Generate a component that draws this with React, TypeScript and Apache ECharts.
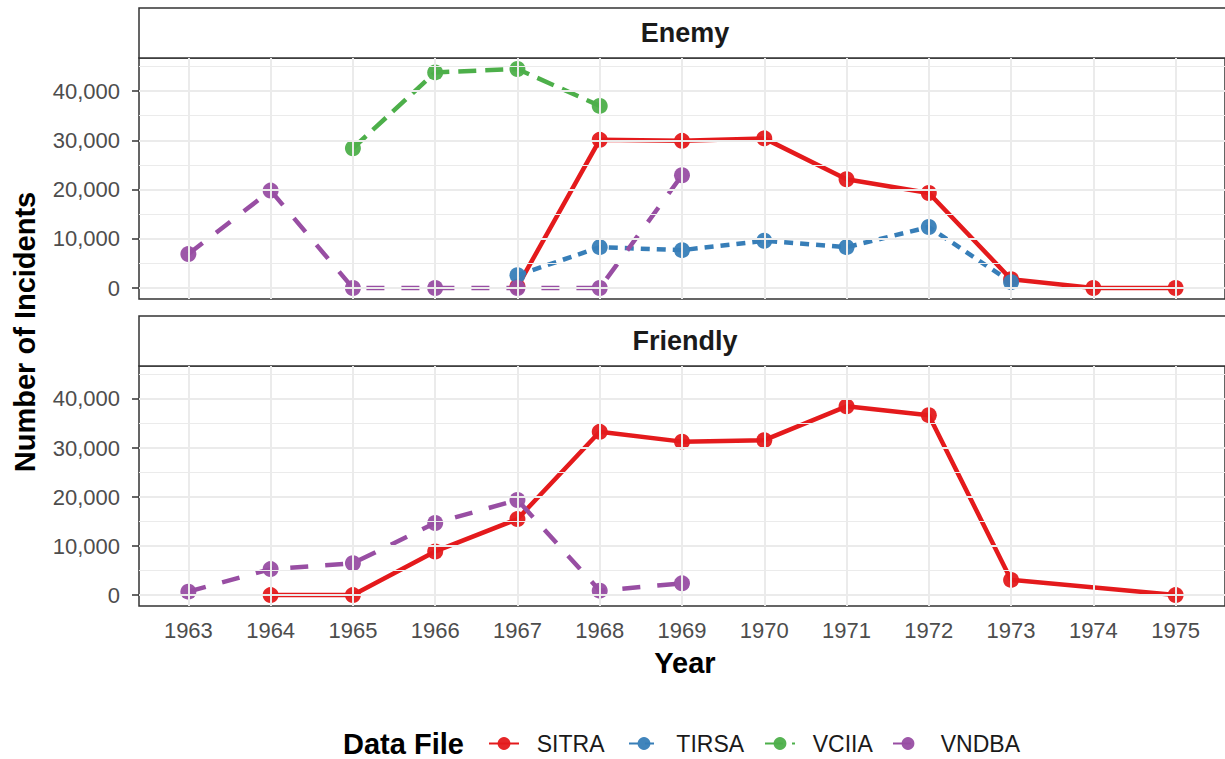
import React, { useEffect, useRef } from "react";
import * as echarts from "echarts";

// Years on the x axis
const years = [1963, 1964, 1965, 1966, 1967, 1968, 1969, 1970, 1971, 1972, 1973, 1974, 1975];
const yTicks = [0, 10000, 20000, 30000, 40000];
const yMinor = [5000, 15000, 25000, 35000, 45000];

// Incident counts per data file (null = no record that year)
const enemySITRA = [null, null, null, null, 300, 30100, 29900, 30400, 22100, 19300, 1800, 0, 0];
const enemyTIRSA = [null, null, null, null, 2600, 8300, 7700, 9600, 8300, 12400, 1200, null, null];
const enemyVCIIA = [null, null, 28400, 43800, 44500, 37000, null, null, null, null, null, null, null];
const enemyVNDBA = [6900, 19800, 0, 0, 0, 0, 22900, null, null, null, null, null, null];
const friendlySITRA = [null, 0, 0, 8900, 15500, 33300, 31300, 31600, 38500, 36700, 3100, null, 0];
const friendlyVNDBA = [700, 5300, 6500, 14700, 19400, 900, 2400, null, null, null, null, null, null];

const facets = ["Enemy", "Friendly"];
const dataFiles = ["SITRA", "TIRSA", "VCIIA", "VNDBA"];

const FONT = "'Liberation Sans', Arial, Helvetica, sans-serif";
const COLORS: Record<string, string> = {
  SITRA: "#E41A1C",
  TIRSA: "#377EB8",
  VCIIA: "#4DAF4A",
  VNDBA: "#984EA3",
};
const DASHES: Record<string, any> = {
  SITRA: "solid",
  TIRSA: [9, 7],
  VCIIA: [18, 9],
  VNDBA: [18, 17],
};

const GRID_LEFT = 139;
const GRID_WIDTH = 1092;
const PANELS = [
  { stripTop: 8, top: 58, height: 241 },
  { stripTop: 316, top: 366, height: 240 },
];

export default function App() {
  const ref = useRef<HTMLDivElement>(null);

  useEffect(() => {
    if (!ref.current) return;
    const chart = echarts.init(ref.current, null, { renderer: "svg" });

    const allValues = [
      ...enemySITRA, ...enemyTIRSA, ...enemyVCIIA, ...enemyVNDBA,
      ...friendlySITRA, ...friendlyVNDBA,
    ].filter((v) => v != null) as number[];
    const dataMax = Math.max(...allValues);
    const dataMin = Math.min(...allValues);
    const yPad = (dataMax - dataMin) * 0.05;
    const yMin = dataMin - yPad;
    const yMax = dataMax + yPad;
    const xPad = 0.6;

    const toPairs = (vals: (number | null)[]) =>
      years.map((y, i) => [y, vals[i] == null ? "-" : vals[i]]);

    const lineSeries = (name: string, vals: (number | null)[], idx: number) => ({
      type: "line",
      name,
      xAxisIndex: idx,
      yAxisIndex: idx,
      data: toPairs(vals),
      connectNulls: true,
      symbol: "circle",
      symbolSize: 16,
      showSymbol: true,
      lineStyle: { color: COLORS[name], width: 4.5, type: DASHES[name], cap: "butt" },
      itemStyle: { color: COLORS[name], borderWidth: 0, opacity: 0.95 },
      emphasis: { disabled: true },
      z: 3,
    });

    // Background grid lines for each panel
    const gridSeries = (idx: number) => ({
      type: "line",
      name: "grid" + idx,
      xAxisIndex: idx,
      yAxisIndex: idx,
      data: [],
      silent: true,
      z: 1,
      markLine: {
        silent: true,
        symbol: "none",
        animation: false,
        label: { show: false },
        emphasis: { disabled: true },
        data: [
          ...yMinor.map((v) => ({ yAxis: v, lineStyle: { color: "#EBEBEB", width: 1, type: "solid" } })),
          ...yTicks.map((v) => ({ yAxis: v, lineStyle: { color: "#EBEBEB", width: 2, type: "solid" } })),
          ...years.map((v) => ({ xAxis: v, lineStyle: { color: "#EBEBEB", width: 2, type: "solid" } })),
        ],
      },
    });

    const grids = PANELS.map((p) => ({
      left: GRID_LEFT,
      top: p.top,
      width: GRID_WIDTH,
      height: p.height,
      show: true,
      backgroundColor: "#FFFFFF",
      borderColor: "#333333",
      borderWidth: 1.5,
      containLabel: false,
    }));

    const xAxes = PANELS.map((_, idx) => ({
      type: "value",
      gridIndex: idx,
      min: years[0] - xPad,
      max: years[years.length - 1] + xPad,
      axisLine: { show: false },
      splitLine: { show: false },
      axisTick: {
        show: idx === 1,
        customValues: years,
        length: 7,
        lineStyle: { color: "#333333", width: 1.5 },
      },
      axisLabel: {
        show: idx === 1,
        customValues: years,
        formatter: (v: number) => String(Math.round(v)),
        fontSize: 22,
        fontFamily: FONT,
        color: "#4D4D4D",
        margin: 13,
      },
    }));

    const yAxes = PANELS.map((_, idx) => ({
      type: "value",
      gridIndex: idx,
      min: yMin,
      max: yMax,
      axisLine: { show: false },
      splitLine: { show: false },
      axisTick: {
        show: true,
        customValues: yTicks,
        length: 7,
        lineStyle: { color: "#333333", width: 1.5 },
      },
      axisLabel: {
        customValues: yTicks,
        formatter: (v: number) => Math.round(v).toLocaleString("en-US"),
        fontSize: 22,
        fontFamily: FONT,
        color: "#4D4D4D",
        margin: 19,
      },
    }));

    const legendLefts = [488, 628, 764, 892];
    const legends = dataFiles.map((name, i) => ({
      data: [name],
      left: legendLefts[i],
      top: 732,
      padding: 0,
      orient: "horizontal",
      itemWidth: 30,
      itemHeight: 16,
      selectedMode: false,
      formatter: (n: string) => "  " + n,
      textStyle: {
        fontSize: 23,
        fontFamily: FONT,
        color: "#1A1A1A",
      },
    }));

    const strips: any[] = [];
    PANELS.forEach((p, idx) => {
      strips.push({
        type: "rect",
        shape: { x: GRID_LEFT, y: p.stripTop, width: GRID_WIDTH, height: p.top - p.stripTop },
        style: { fill: "#FFFFFF", stroke: "#333333", lineWidth: 1.5 },
        z: 5,
      });
      strips.push({
        type: "text",
        x: GRID_LEFT + GRID_WIDTH / 2,
        y: (p.stripTop + p.top) / 2,
        style: {
          text: facets[idx],
          fontSize: 27,
          fontWeight: "bold",
          fontFamily: FONT,
          fill: "#1A1A1A",
          align: "center",
          verticalAlign: "middle",
        },
        z: 6,
      });
    });

    const titles = [
      {
        type: "text",
        x: 25,
        y: 332,
        rotation: Math.PI / 2,
        style: {
          text: "Number of Incidents",
          fontSize: 29,
          fontWeight: "bold",
          fontFamily: FONT,
          fill: "#000000",
          align: "center",
          verticalAlign: "middle",
        },
      },
      {
        type: "text",
        x: GRID_LEFT + GRID_WIDTH / 2,
        y: 663,
        style: {
          text: "Year",
          fontSize: 29,
          fontWeight: "bold",
          fontFamily: FONT,
          fill: "#000000",
          align: "center",
          verticalAlign: "middle",
        },
      },
      {
        type: "text",
        x: 343,
        y: 744,
        style: {
          text: "Data File",
          fontSize: 29,
          fontWeight: "bold",
          fontFamily: FONT,
          fill: "#000000",
          align: "left",
          verticalAlign: "middle",
        },
      },
    ];

    chart.setOption({
      animation: false,
      backgroundColor: "#FFFFFF",
      grid: grids,
      xAxis: xAxes,
      yAxis: yAxes,
      legend: legends,
      graphic: [...strips, ...titles],
      series: [
        gridSeries(0),
        gridSeries(1),
        lineSeries("SITRA", enemySITRA, 0),
        lineSeries("TIRSA", enemyTIRSA, 0),
        lineSeries("VCIIA", enemyVCIIA, 0),
        lineSeries("VNDBA", enemyVNDBA, 0),
        lineSeries("SITRA", friendlySITRA, 1),
        lineSeries("VNDBA", friendlyVNDBA, 1),
      ],
    });

    return () => chart.dispose();
  }, []);

  return (
    <div
      ref={ref}
      style={{ position: "absolute", left: 0, top: 0, width: 1225, height: 759, background: "#FFFFFF" }}
    />
  );
}
